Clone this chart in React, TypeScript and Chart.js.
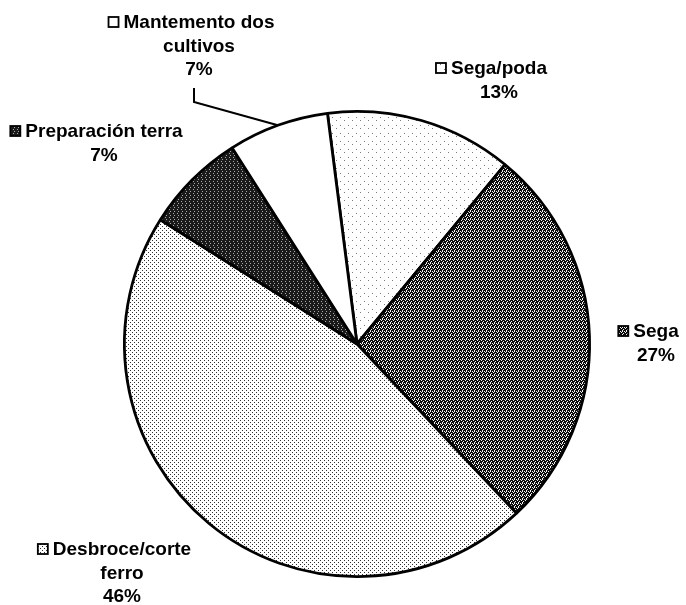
import React, { useEffect, useRef } from "react";
import { Chart, registerables } from "chart.js";

Chart.register(...registerables);

// ---- data ----
const categories = [
  "Sega/poda",
  "Sega",
  "Desbroce/corte ferro",
  "Preparación terra",
  "Mantemento dos cultivos",
];
const values = [13, 27, 46, 7, 7];
// how each category name is wrapped in its label
const nameLines = [
  ["Sega/poda"],
  ["Sega"],
  ["Desbroce/corte", "ferro"],
  ["Preparación terra"],
  ["Mantemento dos", "cultivos"],
];

// ---- layout (pixel offsets from pie centre for the text labels) ----
const labelOffsets = [
  [142, -270],
  [299, -7],
  [-235, 211],
  [-253, -207],
  [-158, -316],
];
const leaderIndex = 4;
const leaderElbow = [-163, -242];
const leaderEnd = [-163, -256];
const FONT = "bold 19px 'Liberation Sans', Arial, sans-serif";
const LINE_H = 23.5;

function makePattern(rows: string[], dark: string, light: string) {
  const h = rows.length;
  const w = rows[0].length;
  const c = document.createElement("canvas");
  c.width = w;
  c.height = h;
  const ctx = c.getContext("2d")!;
  ctx.fillStyle = light;
  ctx.fillRect(0, 0, w, h);
  ctx.fillStyle = dark;
  rows.forEach((r, y) =>
    r.split("").forEach((ch, x) => {
      if (ch === "x") ctx.fillRect(x, y, 1, 1);
    })
  );
  return ctx.createPattern(c, "repeat")!;
}

export default function App() {
  const ref = useRef<HTMLCanvasElement | null>(null);

  useEffect(() => {
    const canvas = ref.current!;
    const fills: any[] = [
      makePattern(
        [
          "x.......",
          "........",
          "........",
          "........",
          "........",
          "....x...",
          "........",
          "........",
        ],
        "#7a7a7a",
        "#ffffff"
      ),
      makePattern(["x.xx", "xxx.", "xx.x", ".x.x"], "#0c0c0c", "#f4f4f4"),
      makePattern(["x...", "....", "..x.", "...."], "#2e2e2e", "#ffffff"),
      makePattern(["xxxx", "x.xx", "xxxx", "xx.x"], "#1a1a1a", "#a8a8a8"),
      "#ffffff",
    ];

    const labelPlugin = {
      id: "pieLabels",
      afterDraw(chart: any) {
        const meta = chart.getDatasetMeta(0);
        const ctx: CanvasRenderingContext2D = chart.ctx;
        const a0 = meta.data[0];
        const cx = a0.x;
        const cy = a0.y;
        const r = a0.outerRadius;
        ctx.save();

        // leader line
        const la = meta.data[leaderIndex];
        const mid = (la.startAngle + la.endAngle) / 2;
        ctx.strokeStyle = "#000";
        ctx.lineWidth = 2;
        ctx.beginPath();
        ctx.moveTo(cx + r * Math.cos(mid), cy + r * Math.sin(mid));
        ctx.lineTo(cx + leaderElbow[0], cy + leaderElbow[1]);
        ctx.lineTo(cx + leaderEnd[0], cy + leaderEnd[1]);
        ctx.stroke();

        ctx.font = FONT;
        ctx.fillStyle = "#000";
        ctx.textAlign = "center";
        ctx.textBaseline = "alphabetic";
        categories.forEach((_, i) => {
          const lines = [...nameLines[i], `${values[i]}%`];
          const x = cx + labelOffsets[i][0];
          const y0 = cy + labelOffsets[i][1];
          lines.forEach((t, k) => {
            ctx.fillText(t, x, y0 + k * LINE_H);
          });
          // legend key square
          const w = ctx.measureText(lines[0]).width;
          const bx = x - w / 2 - 15;
          const by = y0 - 11;
          ctx.fillStyle = fills[i];
          ctx.fillRect(bx, by, 10, 10);
          ctx.strokeStyle = "#000";
          ctx.lineWidth = 1.8;
          ctx.strokeRect(bx, by, 10, 10);
          ctx.fillStyle = "#000";
        });
        ctx.restore();
      },
    };

    const chart = new Chart(canvas, {
      type: "pie",
      data: {
        labels: categories,
        datasets: [
          {
            data: values,
            backgroundColor: fills,
            borderColor: "#000",
            borderWidth: 2.8,
          },
        ],
      },
      options: {
        responsive: false,
        maintainAspectRatio: false,
        animation: false,
        rotation: -7.3,
        layout: { padding: { left: 123, right: 95, top: 110, bottom: 27 } },
        plugins: {
          legend: { display: false },
          tooltip: { enabled: false },
        },
      },
      plugins: [labelPlugin],
    } as any);

    return () => chart.destroy();
  }, []);

  return (
    <div style={{ position: "absolute", left: 0, top: 0, width: 686, height: 605, background: "#fff" }}>
      <canvas ref={ref} width={686} height={605} />
    </div>
  );
}
